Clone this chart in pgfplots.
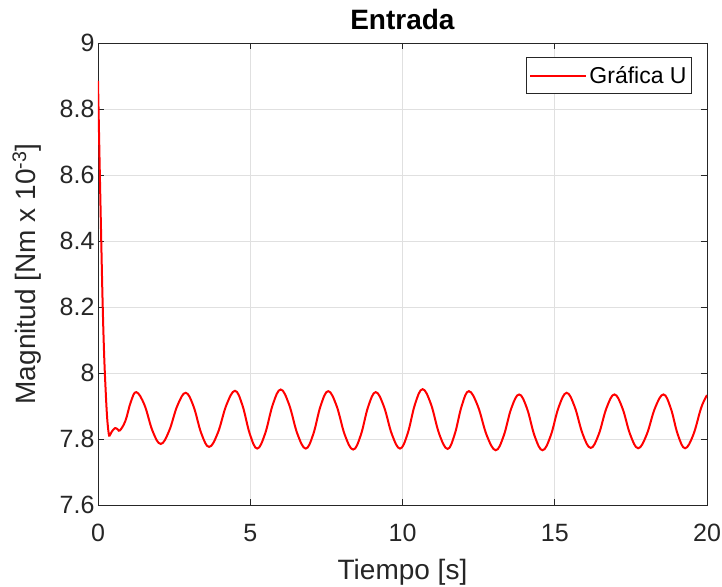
\documentclass[border=0pt]{standalone}
\usepackage{pgfplots}
\pgfplotsset{compat=1.18}
\usepackage{fontspec}
\setmainfont{Liberation Sans}
\definecolor{axgray}{rgb}{0.15,0.15,0.15}
\begin{document}
\begin{tikzpicture}
\useasboundingbox (-98pt,-81pt) rectangle (624pt,505pt);
\begin{axis}[
  at={(0pt,0pt)}, anchor=south west,
  scale only axis,
  width=609pt, height=462pt,
  xmin=0, xmax=20, ymin=7.6, ymax=9,
  xtick={0,5,10,15,20},
  ytick={7.6,7.8,8,8.2,8.4,8.6,8.8,9},
  /pgf/number format/assume math mode=true,
  tick align=inside,
  major tick length=6pt,
  axis line style={draw=axgray, line width=0.8pt},
  every tick/.style={draw=axgray, line width=0.8pt},
  grid=major,
  major grid style={draw=black!12, line width=0.8pt},
  tick label style={font=\fontsize{25}{30}\selectfont, text=axgray},
  xticklabel style={anchor=base, yshift=-36.5pt},
  title={\textbf{Entrada}},
  title style={font=\fontsize{28}{33}\selectfont, at={(axis description cs:0.5,1)}, anchor=base, yshift=7.5pt},
  xlabel={Tiempo [s]},
  xlabel style={font=\fontsize{28}{33}\selectfont, text=axgray, at={(axis description cs:0.5,0)}, anchor=base, yshift=-74pt},
  ylabel={Magnitud [Nm x 10\textsuperscript{-3}]},
  ylabel style={font=\fontsize{28}{33}\selectfont, text=axgray, at={(axis description cs:-0.1034,0.5)}, anchor=base},
  legend style={at={(axis description cs:1,1)}, anchor=north east, xshift=-15pt, yshift=-14pt,
    draw=axgray, line width=0.8pt, font=\fontsize{23}{27}\selectfont,
    inner xsep=3pt, inner ysep=6pt, nodes={inner xsep=2pt, inner ysep=3pt}},
  legend cell align=left,
  legend image code/.code={\draw[#1] (0pt,0pt) -- (56pt,0pt);},
]
\addplot[red, line width=2pt, smooth, tension=0.65] coordinates {
(0,8.885) (0.05,8.65) (0.10,8.43) (0.15,8.22) (0.20,8.06) (0.25,7.95)
(0.30,7.865) (0.35,7.818) (0.38,7.810) (0.45,7.822) (0.56,7.833)
(0.65,7.829) (0.72,7.826) (0.90,7.855) (1.08,7.913)
(1.26,7.942) (1.527,7.903) (1.793,7.824)
(2.06,7.785) (2.333,7.824) (2.607,7.901)
(2.88,7.940) (3.137,7.899) (3.393,7.817)
(3.65,7.776) (3.933,7.818) (4.217,7.903)
(4.50,7.946) (4.743,7.902) (4.987,7.815)
(5.23,7.771) (5.487,7.816) (5.743,7.905)
(6.00,7.950) (6.273,7.905) (6.547,7.816)
(6.82,7.771) (7.067,7.814) (7.313,7.901)
(7.56,7.945) (7.833,7.901) (8.107,7.812)
(8.38,7.768) (8.627,7.811) (8.873,7.898)
(9.12,7.942) (9.387,7.899) (9.653,7.814)
(9.92,7.771) (10.167,7.816) (10.413,7.906)
(10.66,7.951) (10.933,7.906) (11.207,7.815)
(11.48,7.770) (11.713,7.814) (11.947,7.901)
(12.18,7.945) (12.473,7.900) (12.767,7.811)
(13.06,7.766) (13.317,7.808) (13.573,7.893)
(13.83,7.935) (14.087,7.893) (14.343,7.808)
(14.60,7.766) (14.863,7.809) (15.127,7.896)
(15.39,7.940) (15.653,7.898) (15.917,7.815)
(16.18,7.773) (16.44,7.813) (16.70,7.894)
(16.96,7.935) (17.22,7.894) (17.48,7.813)
(17.74,7.772) (18.017,7.813) (18.293,7.894)
(18.57,7.935) (18.807,7.894) (19.043,7.813)
(19.28,7.772) (19.55,7.813) (19.81,7.895) (20,7.933)
};
\addlegendentry{Gráfica U}
\end{axis}
\end{tikzpicture}
\end{document}
